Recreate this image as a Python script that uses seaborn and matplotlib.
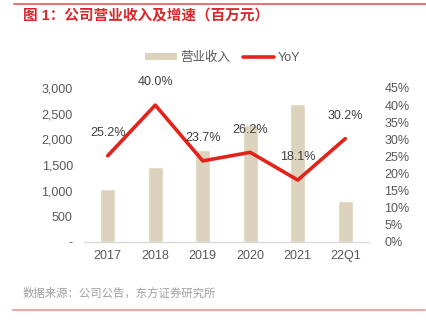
import matplotlib
matplotlib.use("Agg")
import matplotlib.pyplot as plt
import seaborn as sns
import pandas as pd
import numpy as np
from matplotlib.patches import Patch
from matplotlib.lines import Line2D

categories = ["2017", "2018", "2019", "2020", "2021", "22Q1"]
revenue = [1040, 1456, 1801, 2273, 2685, 800]
yoy = [25.2, 40.0, 23.7, 26.2, 18.1, 30.2]
left_ticks = [0, 500, 1000, 1500, 2000, 2500, 3000]
left_labels = ["-", "500", "1,000", "1,500", "2,000", "2,500", "3,000"]
right_ticks = [0, 5, 10, 15, 20, 25, 30, 35, 40, 45]

sns.set_theme(style="white")
plt.rcParams['font.family'] = ['Liberation Sans', 'Noto Sans CJK SC', 'DejaVu Sans']

BAR = "#ddd3bc"
RED = "#e3231b"
GRAY = "#595959"

df = pd.DataFrame({"cat": categories, "rev": revenue, "yoy": yoy, "pos": np.arange(len(categories))})

fig = plt.figure(figsize=(4.27, 3.30), dpi=100)
ax = fig.add_axes([84/427, 1-242/330, (369-84)/427, (242-88)/330])
sns.barplot(data=df, x="cat", y="rev", color=BAR, width=0.31, ax=ax, saturation=1)
ax.set_xlim(-0.5, 5.5)
ax.set_ylim(0, 3000)
ax.set_yticks(left_ticks)
ax.set_yticklabels(left_labels)
ax.set_xlabel("")
ax.set_ylabel("")
for s in ["top", "right", "left"]:
    ax.spines[s].set_visible(False)
ax.spines["bottom"].set_color("#d9d9d9")
ax.spines["bottom"].set_linewidth(1)
ax.tick_params(axis="both", length=0, labelsize=9, colors=GRAY, pad=8)
ax.tick_params(axis="x", pad=6)

ax2 = ax.twinx()
sns.lineplot(data=df, x="pos", y="yoy", color=RED, linewidth=2.6, ax=ax2)
ax2.set_ylim(0, 45)
ax2.set_yticks(right_ticks)
ax2.set_yticklabels([f"{t}%" for t in right_ticks])
ax2.set_xlim(-0.5, 5.5)
ax2.set_ylabel("")
ax2.set_xlabel("")
for s in ["top", "right", "left", "bottom"]:
    ax2.spines[s].set_visible(False)
ax2.tick_params(axis="both", length=0, labelsize=9, colors=GRAY, pad=11)

for p, v in zip(df["pos"], yoy):
    ax2.annotate(f"{v:.1f}%", (p, v), xytext=(0, 12), textcoords="offset points",
                 ha="center", va="bottom", fontsize=9, color="#404040")

handles = [Patch(facecolor=BAR, edgecolor="none"), Line2D([0], [0], color=RED, lw=2.6)]
fig.legend(handles, ["营业收入", "YoY"], loc="center", bbox_to_anchor=(223/427, 1-58/330),
           ncol=2, frameon=False, fontsize=9, labelcolor=GRAY, handlelength=2.5,
           handleheight=0.5, columnspacing=1.0, handletextpad=0.3)

fig.text(23/427, 1-16/330, "图 1：公司营业收入及增速（百万元）", color="#d8262b",
         fontsize=10.5, fontweight="bold", va="center", ha="left")
fig.add_artist(Line2D([14/427, 1], [1-4/330, 1-4/330], color="#e8585a", lw=1.2))
fig.text(23/427, 1-293/330, "数据来源：公司公告，东方证券研究所", color="#a0a0a0",
         fontsize=8.2, va="center", ha="left")
fig.add_artist(Line2D([13/427, 425/427], [1-310/330, 1-310/330], color="#f0a8a4", lw=1.5))

fig.savefig("out.png", dpi=100)
